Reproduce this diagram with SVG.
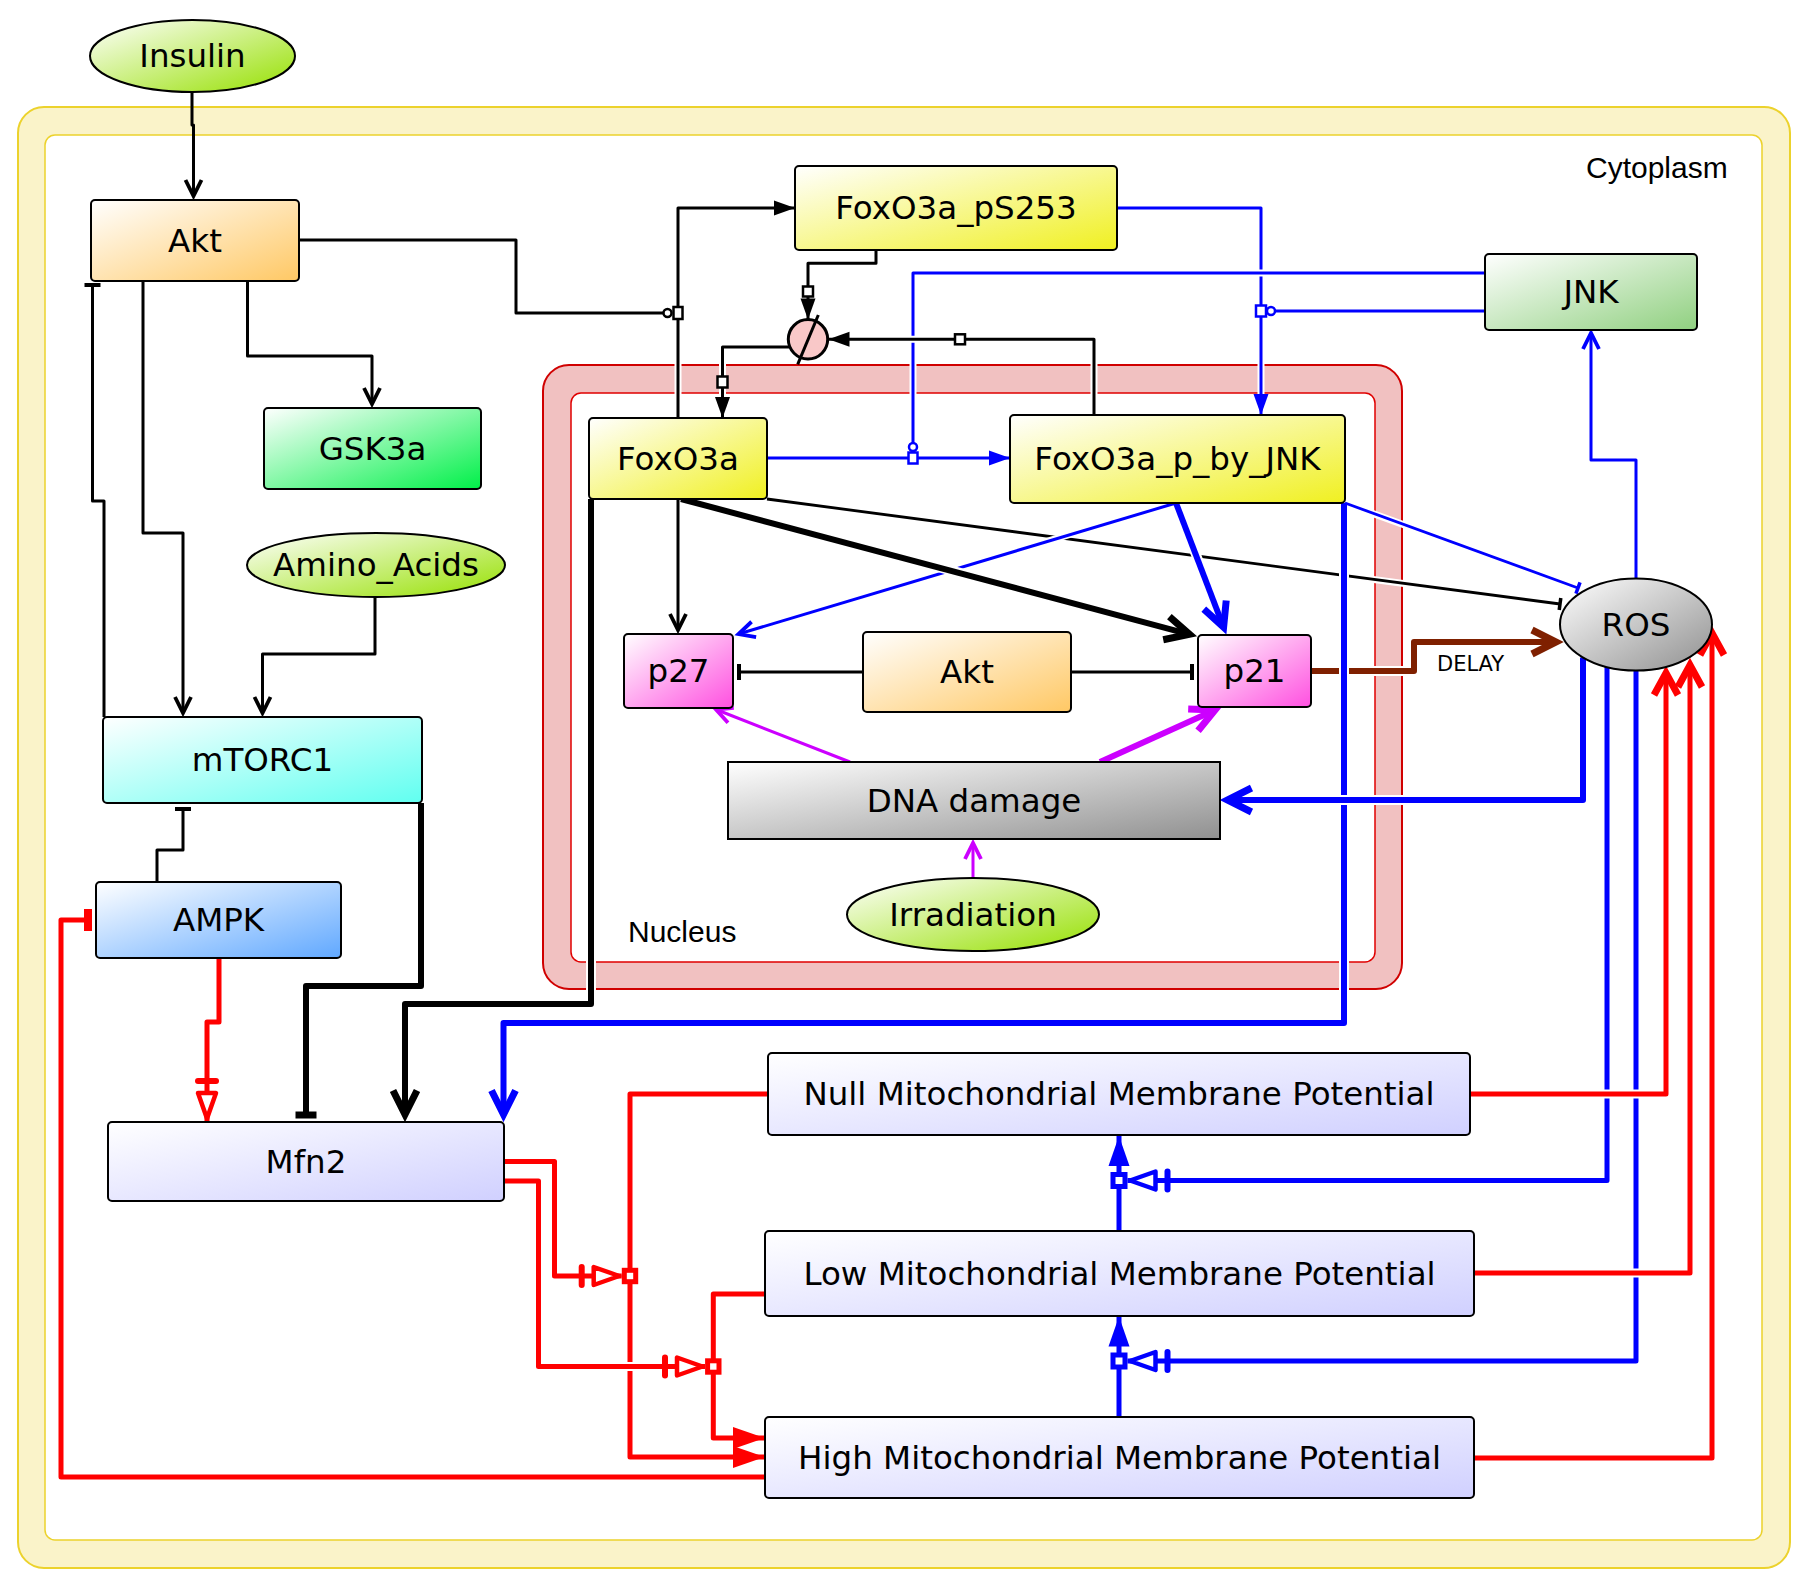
<svg xmlns="http://www.w3.org/2000/svg" width="1810" height="1588" viewBox="0 0 1810 1588">
<style>
.lbl{font-family:"DejaVu Sans","Liberation Sans",sans-serif;font-size:32.5px;text-anchor:middle;fill:#000}
.cmp{font-family:"Liberation Sans",Arial,sans-serif;font-size:30px;fill:#000}
.nd{stroke:#000;stroke-width:2}
.c path{fill:none;stroke-linejoin:round}
.c path.h{stroke:#fff}
.k{stroke:#000}.b{stroke:#0000ff}.r{stroke:#ff0000}.p{stroke:#cc00ff}.br{stroke:#7f2000}
.sq{fill:#fff;stroke:#000;stroke-width:2.5}
.squ{fill:#fff;stroke:#0000ff;stroke-width:2.5}
.squ5{fill:#fff;stroke:#0000ff;stroke-width:5}
.sqr5{fill:#fff;stroke:#ff0000;stroke-width:5}
</style>
<defs>
<linearGradient id="gGreenY" x1="0" y1="0" x2="1" y2="1"><stop offset="0" stop-color="#ffffff"/><stop offset="1" stop-color="#96e000"/></linearGradient>
<linearGradient id="gOrange" x1="0" y1="0" x2="1" y2="1"><stop offset="0" stop-color="#ffffff"/><stop offset="1" stop-color="#ffc864"/></linearGradient>
<linearGradient id="gGreen" x1="0" y1="0" x2="1" y2="1"><stop offset="0" stop-color="#ffffff"/><stop offset="1" stop-color="#00f048"/></linearGradient>
<linearGradient id="gYellow" x1="0" y1="0" x2="1" y2="1"><stop offset="0" stop-color="#ffffff"/><stop offset="1" stop-color="#f0f020"/></linearGradient>
<linearGradient id="gJnk" x1="0" y1="0" x2="1" y2="1"><stop offset="0" stop-color="#ffffff"/><stop offset="1" stop-color="#90d080"/></linearGradient>
<linearGradient id="gGray" x1="0" y1="0" x2="1" y2="1"><stop offset="0" stop-color="#ffffff"/><stop offset="1" stop-color="#909090"/></linearGradient>
<linearGradient id="gPink" x1="0" y1="0" x2="1" y2="1"><stop offset="0" stop-color="#ffffff"/><stop offset="1" stop-color="#ff50e0"/></linearGradient>
<linearGradient id="gCyan" x1="0" y1="0" x2="1" y2="1"><stop offset="0" stop-color="#ffffff"/><stop offset="1" stop-color="#60fff0"/></linearGradient>
<linearGradient id="gBlue" x1="0" y1="0" x2="1" y2="1"><stop offset="0" stop-color="#ffffff"/><stop offset="1" stop-color="#60a8ff"/></linearGradient>
<linearGradient id="gLav" x1="0" y1="0" x2="1" y2="1"><stop offset="0" stop-color="#ffffff"/><stop offset="1" stop-color="#d0d0ff"/></linearGradient>

<marker id="chB" markerUnits="userSpaceOnUse" orient="auto" overflow="visible" markerWidth="1" markerHeight="1"><path d="M-16,-8 L0,0 L-16,8" fill="none" stroke="#000" stroke-width="3.8"/></marker>
<marker id="chBk" markerUnits="userSpaceOnUse" orient="auto" overflow="visible" markerWidth="1" markerHeight="1"><path d="M-24,-12 L0,0 L-24,12" fill="none" stroke="#000" stroke-width="7"/></marker>
<marker id="chU" markerUnits="userSpaceOnUse" orient="auto" overflow="visible" markerWidth="1" markerHeight="1"><path d="M-16,-8 L0,0 L-16,8" fill="none" stroke="#0000ff" stroke-width="3.8"/></marker>
<marker id="chUk" markerUnits="userSpaceOnUse" orient="auto" overflow="visible" markerWidth="1" markerHeight="1"><path d="M-24,-12 L0,0 L-24,12" fill="none" stroke="#0000ff" stroke-width="7"/></marker>
<marker id="chP" markerUnits="userSpaceOnUse" orient="auto" overflow="visible" markerWidth="1" markerHeight="1"><path d="M-16,-8 L0,0 L-16,8" fill="none" stroke="#cc00ff" stroke-width="3.8"/></marker>
<marker id="chPk" markerUnits="userSpaceOnUse" orient="auto" overflow="visible" markerWidth="1" markerHeight="1"><path d="M-24,-12 L0,0 L-24,12" fill="none" stroke="#cc00ff" stroke-width="7"/></marker>
<marker id="chBr" markerUnits="userSpaceOnUse" orient="auto" overflow="visible" markerWidth="1" markerHeight="1"><path d="M-24,-12 L0,0 L-24,12" fill="none" stroke="#7f2000" stroke-width="7"/></marker>
<marker id="chR" markerUnits="userSpaceOnUse" orient="auto" overflow="visible" markerWidth="1" markerHeight="1"><path d="M-22,-12 L0,0 L-22,12" fill="none" stroke="#ff0000" stroke-width="7"/></marker>
<marker id="triB" markerUnits="userSpaceOnUse" orient="auto" overflow="visible" markerWidth="1" markerHeight="1"><polygon points="0,0 -21,-7.5 -21,7.5" fill="#000"/></marker>
<marker id="triU" markerUnits="userSpaceOnUse" orient="auto" overflow="visible" markerWidth="1" markerHeight="1"><polygon points="0,0 -21,-7.5 -21,7.5" fill="#0000ff"/></marker>
<marker id="triU2" markerUnits="userSpaceOnUse" orient="auto" overflow="visible" markerWidth="1" markerHeight="1"><polygon points="0,0 -30,-10.5 -30,10.5" fill="#0000ff"/></marker>
<marker id="triR" markerUnits="userSpaceOnUse" orient="auto" overflow="visible" markerWidth="1" markerHeight="1"><polygon points="0,0 -32,-11 -32,11" fill="#ff0000"/></marker>
<marker id="barB" markerUnits="userSpaceOnUse" orient="auto" overflow="visible" markerWidth="1" markerHeight="1"><line x1="0" y1="-8" x2="0" y2="8" stroke="#000" stroke-width="4"/></marker>
<marker id="barBs" markerUnits="userSpaceOnUse" orient="auto" overflow="visible" markerWidth="1" markerHeight="1"><line x1="0" y1="-6" x2="0" y2="6" stroke="#000" stroke-width="3.5"/></marker>
<marker id="barBk" markerUnits="userSpaceOnUse" orient="auto" overflow="visible" markerWidth="1" markerHeight="1"><line x1="0" y1="-10.5" x2="0" y2="10.5" stroke="#000" stroke-width="7"/></marker>
<marker id="barU" markerUnits="userSpaceOnUse" orient="auto" overflow="visible" markerWidth="1" markerHeight="1"><line x1="0" y1="-6" x2="0" y2="6" stroke="#0000ff" stroke-width="3.5"/></marker>
<marker id="barR" markerUnits="userSpaceOnUse" orient="auto" overflow="visible" markerWidth="1" markerHeight="1"><line x1="0" y1="-11" x2="0" y2="11" stroke="#ff0000" stroke-width="8"/></marker>
<marker id="modB" markerUnits="userSpaceOnUse" orient="auto" overflow="visible" markerWidth="1" markerHeight="1"><circle cx="-4.5" cy="0" r="4" fill="#fff" stroke="#000" stroke-width="2.5"/></marker>
<marker id="modU" markerUnits="userSpaceOnUse" orient="auto" overflow="visible" markerWidth="1" markerHeight="1"><circle cx="-4.5" cy="0" r="4" fill="#fff" stroke="#0000ff" stroke-width="2.5"/></marker>
<marker id="necR" markerUnits="userSpaceOnUse" orient="auto" overflow="visible" markerWidth="1" markerHeight="1"><line x1="-40" y1="-9" x2="-40" y2="9" stroke="#ff0000" stroke-width="6" stroke-linecap="round"/><polygon points="-2.5,0 -28,-9 -28,9" fill="#fff" stroke="#ff0000" stroke-width="4.5" stroke-linejoin="round"/></marker>
<marker id="necU" markerUnits="userSpaceOnUse" orient="auto" overflow="visible" markerWidth="1" markerHeight="1"><line x1="-40" y1="-9" x2="-40" y2="9" stroke="#0000ff" stroke-width="6" stroke-linecap="round"/><polygon points="-2.5,0 -28,-9 -28,9" fill="#fff" stroke="#0000ff" stroke-width="4.5" stroke-linejoin="round"/></marker>
</defs>

<g id="compartments">
<g id="cytoplasm">
<rect x="18" y="107" width="1772" height="1461" rx="26" fill="#faf3c9" stroke="#ecd22c" stroke-width="2"/>
<rect x="45" y="135" width="1717" height="1405" rx="10" fill="#ffffff" stroke="#ecd22c" stroke-width="1.5"/>
<text class="cmp" x="1586" y="178">Cytoplasm</text>
</g>
<g id="nucleus">
<rect x="543" y="365" width="859" height="624" rx="26" fill="#f1c1c1" stroke="#d00000" stroke-width="2"/>
<rect x="571" y="393" width="804" height="569" rx="10" fill="#ffffff" stroke="#e00000" stroke-width="1.5"/>
<text class="cmp" x="628" y="942">Nucleus</text>
</g>
</g>

<g id="connectors" class="c">
<g id="e_p21_ros"><path class="h" stroke-width="10" d="M1311,671 H1414 V642 H1556"/><path class="br" stroke-width="6" d="M1311,671 H1414 V642 H1556" marker-end="url(#chBr)"/>
<text x="1437" y="671" style="font-family:'DejaVu Sans',sans-serif;font-size:21px;fill:#000">DELAY</text></g>
<g id="e_foxo_ros"><path class="h" stroke-width="7" d="M775,500 L1550,603"/><path class="k" stroke-width="2.8" d="M767,499 L1560,604" marker-end="url(#barBs)"/></g>
<g id="e_jnkp_ros"><path class="h" stroke-width="7" d="M1352,506 L1570,585"/><path class="b" stroke-width="2.8" d="M1345,503 L1578,588" marker-end="url(#barU)"/></g>
<g id="e_jnkp_p27"><path class="h" stroke-width="7" d="M1168,505 L745,632"/><path class="b" stroke-width="3" d="M1176,503 L738.5,634" marker-end="url(#chU)"/></g>
<g id="e_jnkp_p21"><path class="h" stroke-width="10" d="M1180,513 L1221,620"/><path class="b" stroke-width="6" d="M1176,503 L1223.6,627.2" marker-end="url(#chUk)"/></g>
<g id="e_foxo_p21"><path class="h" stroke-width="10" d="M692,502 L1180,631"/><path class="k" stroke-width="6" d="M681,499 L1189.5,634.3" marker-end="url(#chBk)"/></g>
<g id="e_foxo_p27"><path class="k" stroke-width="3" d="M678,499 V630" marker-end="url(#chB)"/></g>
<g id="e_jnkp_mfn2"><path class="h" stroke-width="10" d="M1344,510 V1023 H503.5 V1110"/><path class="b" stroke-width="6" d="M1344,503 V1023 H503.5 V1114.5" marker-end="url(#chUk)"/></g>
<g id="e_ros_dna"><path class="h" stroke-width="10" d="M1583,660 V800 H1230"/><path class="b" stroke-width="6" d="M1583,657.5 V800 H1227.5" marker-end="url(#chUk)"/></g>
<g id="e_foxo_mfn2"><path class="h" stroke-width="10" d="M591,502 V1004 H405 V1110"/><path class="k" stroke-width="6" d="M591,499 V1004 H405 V1114.5" marker-end="url(#chBk)"/></g>
<g id="e_mtor_mfn2"><path class="k" stroke-width="6" d="M421,803 V986 H306 V1115" marker-end="url(#barBk)"/></g>
<g id="e_ins_akt"><path class="k" stroke-width="3" d="M192,93 V125 H193.5 V196" marker-end="url(#chB)"/></g>
<g id="e_akt_gsk"><path class="k" stroke-width="3" d="M247.5,281 V356 H372 V404" marker-end="url(#chB)"/></g>
<g id="e_akt_mtor"><path class="k" stroke-width="3" d="M143,281 V533 H183 V713" marker-end="url(#chB)"/></g>
<g id="e_aa_mtor"><path class="k" stroke-width="3" d="M375,597 V654 H262.5 V713" marker-end="url(#chB)"/></g>
<g id="e_mtor_akt"><path class="k" stroke-width="3" d="M104,717 V501 H92.5 V285" marker-end="url(#barB)"/></g>
<g id="e_ampk_mtor"><path class="k" stroke-width="3" d="M157,882 V850 H183 V809" marker-end="url(#barB)"/></g>
<g id="e_ps253_jnkp"><path class="h" stroke-width="7" d="M1120,208 H1261 V405"/><path class="b" stroke-width="3" d="M1117,208 H1261 V415" marker-end="url(#triU)"/></g>
<g id="e_jnk_mod2"><path class="h" stroke-width="7" d="M1480,311 H1275"/><path class="b" stroke-width="3" d="M1485,311 H1266.5" marker-end="url(#modU)"/></g>
<g id="e_jnk_mod1"><path class="h" stroke-width="7" d="M1480,273 H913 V440"/><path class="b" stroke-width="3" d="M1485,273 H913 V451.5" marker-end="url(#modU)"/></g>
<g id="e_foxo_jnkp"><path class="b" stroke-width="3" d="M767,458 H1010" marker-end="url(#triU)"/></g>
<g id="e_foxo_ps253"><path class="h" stroke-width="7" d="M678,412 V208 H785"/><path class="k" stroke-width="3" d="M678,418 V208 H795" marker-end="url(#triB)"/></g>
<g id="e_akt_mod"><path class="h" stroke-width="7" d="M305,240 H516 V313 H660"/><path class="k" stroke-width="3" d="M299,240 H516 V313 H672" marker-end="url(#modB)"/></g>
<g id="e_ps253_sink"><path class="h" stroke-width="7" d="M876,255 V263.3 H808 V305"/><path class="k" stroke-width="3" d="M876,251 V263.3 H808 V319.5" marker-end="url(#triB)"/></g>
<g id="e_jnkp_sink"><path class="h" stroke-width="7" d="M1094,410 V339.3 H845"/><path class="k" stroke-width="3" d="M1094,415 V339.3 H828.5" marker-end="url(#triB)"/></g>
<g id="e_src_foxo"><path class="h" stroke-width="7" d="M785,347 H722.5 V405"/><path class="k" stroke-width="3" d="M789,347 H722.5 V418" marker-end="url(#triB)"/></g>
<g id="e_ros_jnk"><path class="b" stroke-width="3" d="M1636,579 V460 H1591 V333" marker-end="url(#chU)"/></g>
<g id="e_akt_p27"><path class="k" stroke-width="3" d="M863,672 H739" marker-end="url(#barB)"/></g>
<g id="e_akt_p21"><path class="k" stroke-width="3" d="M1071,672 H1192" marker-end="url(#barB)"/></g>
<g id="e_dna_p27"><path class="p" stroke-width="3" d="M850,762 L716,709.5" marker-end="url(#chP)"/></g>
<g id="e_dna_p21"><path class="p" stroke-width="6" d="M1100,762 L1215,710" marker-end="url(#chPk)"/></g>
<g id="e_irr_dna"><path class="p" stroke-width="3" d="M973,878 V843" marker-end="url(#chP)"/></g>
<g id="e_ampk_mfn2"><path class="r" stroke-width="5" d="M219,958 V1022 H207 V1121" marker-end="url(#necR)"/></g>
<g id="e_high_ampk"><path class="r" stroke-width="5" d="M765,1477 H61 V920 H88" marker-end="url(#barR)"/></g>
<g id="e_ros_mod1"><path class="b" stroke-width="5" d="M1607,667 V1180.5 H1127.5" marker-end="url(#necU)"/></g>
<g id="e_ros_mod2"><path class="b" stroke-width="5" d="M1636,670.5 V1361 H1127.5" marker-end="url(#necU)"/></g>
<g id="e_low_null"><path class="b" stroke-width="5" d="M1119,1231 V1136" marker-end="url(#triU2)"/></g>
<g id="e_high_low"><path class="b" stroke-width="5" d="M1119,1417 V1316.5" marker-end="url(#triU2)"/></g>
<g id="e_null_ros"><path class="h" stroke-width="9" d="M1475,1094 H1666 V680"/><path class="r" stroke-width="5" d="M1470,1094 H1666 V673" marker-end="url(#chR)"/></g>
<g id="e_low_ros"><path class="h" stroke-width="9" d="M1478,1273 H1690 V672"/><path class="r" stroke-width="5" d="M1474,1273 H1690 V665" marker-end="url(#chR)"/></g>
<g id="e_high_ros"><path class="h" stroke-width="9" d="M1478,1458 H1712 V640"/><path class="r" stroke-width="5" d="M1474,1458 H1712 V633" marker-end="url(#chR)"/></g>
<g id="e_null_high"><path class="r" stroke-width="5" d="M768,1094 H630 V1457 H765" marker-end="url(#triR)"/></g>
<g id="e_low_high"><path class="r" stroke-width="5" d="M765,1294 H713.3 V1438 H765" marker-end="url(#triR)"/></g>
<g id="e_mfn2_t1"><path class="r" stroke-width="5" d="M504,1161.5 H554.5 V1276 H621.7" marker-end="url(#necR)"/></g>
<g id="e_mfn2_t2"><path class="h" stroke-width="9" d="M510,1181 H538.5 V1366.5 H690"/><path class="r" stroke-width="5" d="M504,1181 H538.5 V1366.5 H705" marker-end="url(#necR)"/></g>
<g id="processes">
<rect class="sq" x="673.5" y="307" width="9" height="12"/>
<rect class="sq" x="803" y="286.5" width="10" height="10"/>
<rect class="sq" x="955" y="334.3" width="10" height="10"/>
<rect class="sq" x="717.5" y="376.5" width="10" height="11"/>
<rect class="squ" x="908.5" y="452.5" width="9" height="11"/>
<rect class="squ" x="1256" y="305.5" width="10" height="11"/>
<rect class="squ5" x="1113" y="1174.5" width="12" height="12"/>
<rect class="squ5" x="1113" y="1355" width="12" height="12"/>
<rect class="sqr5" x="624.3" y="1270.3" width="11.4" height="11.4"/>
<rect class="sqr5" x="707.6" y="1360.8" width="11.4" height="11.4"/>
</g>
</g>

<g id="nodes">
<g id="n_insulin"><ellipse class="nd" cx="192.5" cy="56" rx="102.5" ry="36" fill="url(#gGreenY)"/><text class="lbl" x="192.5" y="67">Insulin</text></g>
<g id="n_akt"><rect class="nd" x="91" y="200" width="208" height="81" rx="4" fill="url(#gOrange)"/><text class="lbl" x="195" y="251.5">Akt</text></g>
<g id="n_gsk3a"><rect class="nd" x="264" y="408" width="217" height="81" rx="4" fill="url(#gGreen)"/><text class="lbl" x="372.5" y="459.5">GSK3a</text></g>
<g id="n_foxo_ps253"><rect class="nd" x="795" y="166" width="322" height="84" rx="4" fill="url(#gYellow)"/><text class="lbl" x="956" y="219">FoxO3a_pS253</text></g>
<g id="n_jnk"><rect class="nd" x="1485" y="254" width="212" height="76" rx="4" fill="url(#gJnk)"/><text class="lbl" x="1591" y="303">JNK</text></g>
<g id="n_sink"><circle cx="808" cy="339.3" r="19.7" fill="#f9c8c8" stroke="#000" stroke-width="3"/><line x1="818.3" y1="315" x2="797.7" y2="364.3" stroke="#000" stroke-width="3"/></g>
<g id="n_aa"><ellipse class="nd" cx="376" cy="565" rx="129" ry="32" fill="url(#gGreenY)"/><text class="lbl" x="376" y="576">Amino_Acids</text></g>
<g id="n_foxo"><rect class="nd" x="589" y="418" width="178" height="81" rx="4" fill="url(#gYellow)"/><text class="lbl" x="678" y="469.5">FoxO3a</text></g>
<g id="n_foxo_jnkp"><rect class="nd" x="1010" y="415" width="335" height="88" rx="4" fill="url(#gYellow)"/><text class="lbl" x="1177.5" y="470">FoxO3a_p_by_JNK</text></g>
<g id="n_ros"><ellipse class="nd" cx="1636" cy="624.5" rx="76" ry="46" fill="url(#gGray)"/><text class="lbl" x="1636" y="635.5">ROS</text></g>
<g id="n_p27"><rect class="nd" x="624" y="634" width="109" height="74" rx="4" fill="url(#gPink)"/><text class="lbl" x="678.5" y="682">p27</text></g>
<g id="n_akt_nuc"><rect class="nd" x="863" y="632" width="208" height="80" rx="4" fill="url(#gOrange)"/><text class="lbl" x="967" y="683">Akt</text></g>
<g id="n_p21"><rect class="nd" x="1198" y="635" width="113" height="72" rx="4" fill="url(#gPink)"/><text class="lbl" x="1254.5" y="682">p21</text></g>
<g id="n_dna"><rect class="nd" x="728" y="762" width="492" height="77" fill="url(#gGray)"/><text class="lbl" x="974" y="811.5">DNA damage</text></g>
<g id="n_irr"><ellipse class="nd" cx="973" cy="914.5" rx="126" ry="36.5" fill="url(#gGreenY)"/><text class="lbl" x="973" y="925.5">Irradiation</text></g>
<g id="n_mtorc1"><rect class="nd" x="103" y="717" width="319" height="86" rx="4" fill="url(#gCyan)"/><text class="lbl" x="262.5" y="771">mTORC1</text></g>
<g id="n_ampk"><rect class="nd" x="96" y="882" width="245" height="76" rx="4" fill="url(#gBlue)"/><text class="lbl" x="218.5" y="931">AMPK</text></g>
<g id="n_mfn2"><rect class="nd" x="108" y="1122" width="396" height="79" rx="4" fill="url(#gLav)"/><text class="lbl" x="306" y="1172.5">Mfn2</text></g>
<g id="n_null"><rect class="nd" x="768" y="1053" width="702" height="82" rx="4" fill="url(#gLav)"/><text class="lbl" x="1119" y="1105">Null Mitochondrial Membrane Potential</text></g>
<g id="n_low"><rect class="nd" x="765" y="1231" width="709" height="85" rx="4" fill="url(#gLav)"/><text class="lbl" x="1119.5" y="1284.5">Low Mitochondrial Membrane Potential</text></g>
<g id="n_high"><rect class="nd" x="765" y="1417" width="709" height="81" rx="4" fill="url(#gLav)"/><text class="lbl" x="1119.5" y="1468.5">High Mitochondrial Membrane Potential</text></g>
</g>
</svg>
